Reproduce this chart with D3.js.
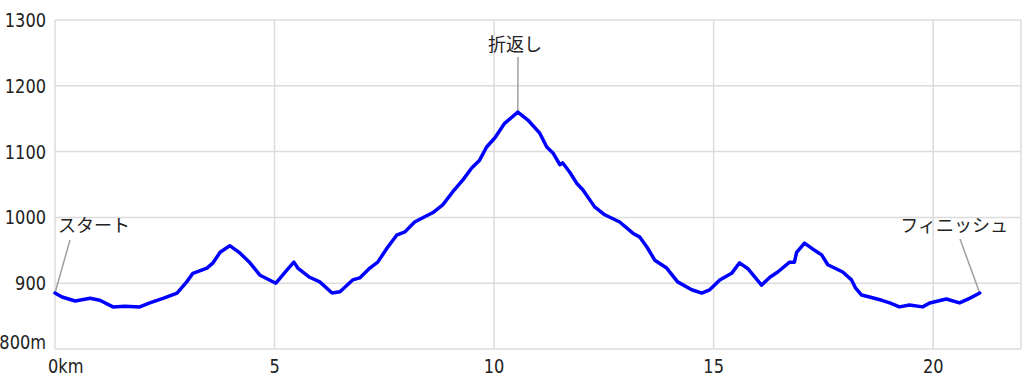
<!DOCTYPE html>
<html>
<head>
<meta charset="utf-8">
<script src="https://cdn.jsdelivr.net/npm/d3@7"></script>
<style>
  body { margin: 0; background: #fff; }
  .tick-label { font-family: 'DejaVu Sans Condensed', 'DejaVu Sans', sans-serif; font-size: 20px; fill: #222; }
  .note { font-family: 'Noto Sans CJK JP', sans-serif; font-size: 18px; fill: #222; }
</style>
</head>
<body>
<div id="chart"></div>
<script>
// course profile: distance (km) and elevation (m)
let distances = [0, 0.16, 0.46, 0.8, 1.02, 1.32, 1.59, 1.93, 2.16, 2.46, 2.78, 3.0, 3.14, 3.46, 3.6, 3.76, 3.98,
  4.21, 4.44, 4.67, 5.03, 5.28, 5.44, 5.53, 5.8, 6.03, 6.31, 6.49, 6.78, 6.94, 7.17, 7.35, 7.56, 7.78, 7.97,
  8.19, 8.42, 8.6, 8.83, 9.06, 9.29, 9.49, 9.67, 9.83, 10.02, 10.24, 10.54, 10.77, 11.04, 11.2, 11.34, 11.5,
  11.56, 11.72, 11.88, 12.02, 12.29, 12.52, 12.86, 13.16, 13.32, 13.48, 13.66, 13.93, 14.18, 14.5, 14.73,
  14.91, 15.14, 15.41, 15.59, 15.78, 16.09, 16.28, 16.46, 16.73, 16.84, 16.89, 17.07, 17.3, 17.46, 17.6,
  17.94, 18.14, 18.23, 18.37, 18.55, 18.83, 19.01, 19.23, 19.46, 19.76, 19.92, 20.3, 20.6, 20.83, 21.06]
let elevations = [885, 879, 873, 877, 874, 864, 865, 864, 870, 877, 885, 902, 915, 923, 931, 947, 957,
  946, 931, 912, 900, 920, 932, 923, 909, 902, 885, 887, 905, 908, 923, 932, 953, 973, 978,
  993, 1001, 1007, 1019, 1039, 1057, 1075, 1087, 1107, 1121, 1143, 1160, 1148, 1128, 1107, 1098, 1080,
  1083, 1069, 1052, 1042, 1016, 1004, 993, 976, 970, 955, 935, 923, 902, 890, 885,
  890, 905, 915, 931, 922, 897, 909, 917, 932, 932, 947, 961, 950, 943, 928,
  917, 905, 893, 882, 879, 874, 870, 864, 867, 864, 870, 876, 870, 877, 885]

let yTicks = [800, 900, 1000, 1100, 1200, 1300]
let xTicks = [0, 5, 10, 15, 20]

let notes = [
  { text: 'スタート', km: 0, elev: 885, tx: 58, ty: 232, anchor: 'start', lx: 70, ly: 240 },
  { text: '折返し', km: 10.54, elev: 1160, tx: 515, ty: 51, anchor: 'middle', lx: 518, ly: 57 },
  { text: 'フィニッシュ', km: 21.06, elev: 885, tx: 1008, ty: 232, anchor: 'end', lx: 960, ly: 239 }
]

let data = distances.map((d, i) => ({ km: d, elev: elevations[i] }))

let width = 1024
let height = 383
let margin = { top: 20, left: 55, right: 3, bottom: 34 }

let svg = d3
  .select('#chart')
  .append('svg')
  .attr('width', width)
  .attr('height', height)

let xScale = d3.scaleLinear().domain([0, 22]).range([margin.left, width - margin.right])
let yScale = d3.scaleLinear().domain([800, 1300]).range([height - margin.bottom, margin.top])

// grid
svg
  .selectAll('.hgrid')
  .data(yTicks)
  .enter()
  .append('line')
  .attr('class', 'hgrid')
  .attr('x1', xScale(0))
  .attr('x2', xScale(22))
  .attr('y1', d => yScale(d))
  .attr('y2', d => yScale(d))
  .attr('stroke', '#dcdcdc')
  .attr('stroke-width', 1.5)

svg
  .selectAll('.vgrid')
  .data(xTicks.concat([22]))
  .enter()
  .append('line')
  .attr('class', 'vgrid')
  .attr('x1', d => xScale(d))
  .attr('x2', d => xScale(d))
  .attr('y1', yScale(800))
  .attr('y2', yScale(1300))
  .attr('stroke', '#dcdcdc')
  .attr('stroke-width', 1.5)

// y labels (narrowed a bit)
svg
  .selectAll('.ylab')
  .data(yTicks)
  .enter()
  .append('text')
  .attr('class', 'tick-label')
  .attr('transform', d => `translate(46,${yScale(d) + (d === 800 ? 0 : 7)}) scale(0.9,1)`)
  .attr('text-anchor', 'end')
  .text(d => (d === 800 ? d + 'm' : d))

// x labels
svg
  .selectAll('.xlab')
  .data(xTicks)
  .enter()
  .append('text')
  .attr('class', 'tick-label')
  .attr('transform', d => `translate(${d === 0 ? xScale(d) - 7 : xScale(d)},373) scale(0.9,1)`)
  .attr('text-anchor', d => (d === 0 ? 'start' : 'middle'))
  .text(d => (d === 0 ? '0km' : d))

// leader lines
svg
  .selectAll('.leader')
  .data(notes)
  .enter()
  .append('line')
  .attr('class', 'leader')
  .attr('x1', d => d.lx)
  .attr('y1', d => d.ly)
  .attr('x2', d => xScale(d.km))
  .attr('y2', d => yScale(d.elev))
  .attr('stroke', '#a0a0a0')
  .attr('stroke-width', 1.5)

let line = d3
  .line()
  .x(d => xScale(d.km))
  .y(d => yScale(d.elev))

svg
  .append('path')
  .datum(data)
  .attr('d', line)
  .attr('fill', 'none')
  .attr('stroke', '#0000ff')
  .attr('stroke-width', 3.5)
  .attr('stroke-linejoin', 'round')
  .attr('stroke-linecap', 'round')

svg
  .selectAll('.note')
  .data(notes)
  .enter()
  .append('text')
  .attr('class', 'note')
  .attr('x', d => d.tx)
  .attr('y', d => d.ty)
  .attr('text-anchor', d => d.anchor)
  .text(d => d.text)
</script>
</body>
</html>
